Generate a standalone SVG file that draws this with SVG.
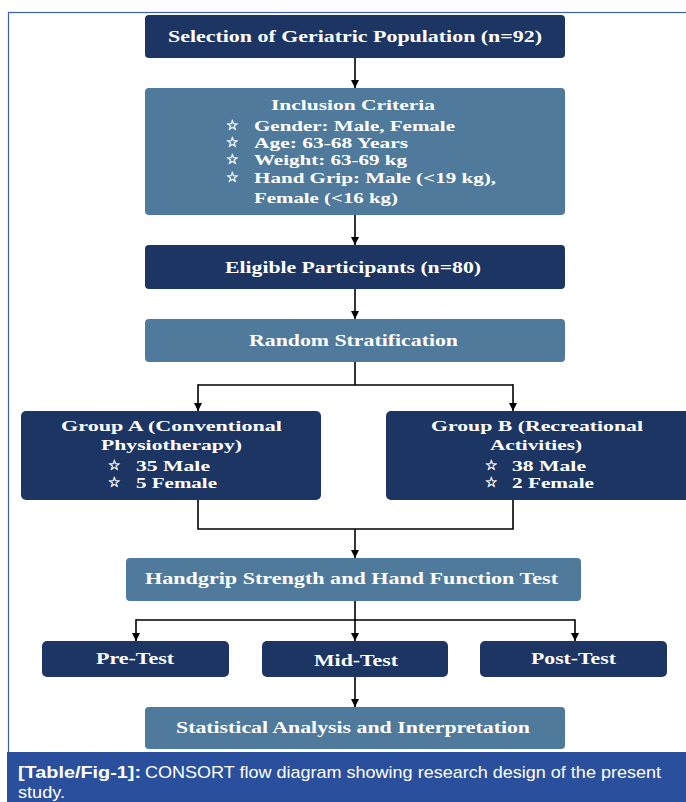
<svg xmlns="http://www.w3.org/2000/svg" width="686" height="802" viewBox="0 0 686 802">
<style>
.dark{fill:#1d3562;}
.steel{fill:#4f7a9b;}
.t{font-family:"Liberation Serif","Times New Roman",serif;font-weight:bold;font-size:17px;fill:#ffffff;}
.m{font-size:15px;}
.s{font-family:"DejaVu Sans",sans-serif;font-size:14px;fill:#ffffff;stroke:#ffffff;stroke-width:0.4;}
.ln{stroke:#000000;stroke-width:1.6;fill:none;}
.cap{font-family:"Liberation Sans",Arial,sans-serif;font-size:17px;fill:#ffffff;}
</style>
<defs>
<marker id="ah" viewBox="0 0 10 10" refX="10" refY="5" markerWidth="8" markerHeight="8" markerUnits="userSpaceOnUse" orient="auto">
<path d="M0,0 L10,5 L0,10 z" fill="#000000"/>
</marker>
</defs>
<rect x="0" y="0" width="686" height="802" fill="#ffffff"/>
<rect x="8.5" y="12.5" width="700" height="760" fill="none" stroke="#3c5fb0" stroke-width="1.2"/>

<g id="connectors">
<line class="ln" x1="355" y1="58" x2="355" y2="88" marker-end="url(#ah)"/>
<line class="ln" x1="355" y1="215" x2="355" y2="245" marker-end="url(#ah)"/>
<line class="ln" x1="355" y1="289" x2="355" y2="319" marker-end="url(#ah)"/>
<path class="ln" d="M355,362 V385 M198,385 H513"/>
<line class="ln" x1="198" y1="384.2" x2="198" y2="411" marker-end="url(#ah)"/>
<line class="ln" x1="513" y1="384.2" x2="513" y2="411" marker-end="url(#ah)"/>
<path class="ln" d="M198,500 V529 H513 V500"/>
<line class="ln" x1="355" y1="529" x2="355" y2="558" marker-end="url(#ah)"/>
<path class="ln" d="M355,601 V620 M136,620 H575"/>
<line class="ln" x1="136" y1="619.2" x2="136" y2="641" marker-end="url(#ah)"/>
<line class="ln" x1="355" y1="619.2" x2="355" y2="641" marker-end="url(#ah)"/>
<line class="ln" x1="575" y1="619.2" x2="575" y2="641" marker-end="url(#ah)"/>
<line class="ln" x1="355" y1="677" x2="355" y2="707" marker-end="url(#ah)"/>
</g>

<g id="selection">
<rect class="dark" x="145" y="15" width="420" height="43" rx="4"/>
<text class="t" x="168" y="42" textLength="374" lengthAdjust="spacingAndGlyphs">Selection of Geriatric Population (n=92)</text>
</g>

<g id="inclusion">
<rect class="steel" x="145" y="88" width="420" height="127" rx="4"/>
<text class="t m" x="271" y="110" textLength="164" lengthAdjust="spacingAndGlyphs">Inclusion Criteria</text>
<text class="s" x="226" y="130">☆</text>
<text class="t m" x="254" y="131" textLength="201" lengthAdjust="spacingAndGlyphs">Gender: Male, Female</text>
<text class="s" x="226" y="147">☆</text>
<text class="t m" x="254" y="148" textLength="154" lengthAdjust="spacingAndGlyphs">Age: 63-68 Years</text>
<text class="s" x="226" y="164">☆</text>
<text class="t m" x="254" y="165" textLength="153" lengthAdjust="spacingAndGlyphs">Weight: 63-69 kg</text>
<text class="s" x="226" y="182">☆</text>
<text class="t m" x="254" y="183" textLength="242" lengthAdjust="spacingAndGlyphs">Hand Grip: Male (&lt;19 kg),</text>
<text class="t m" x="254" y="203" textLength="144" lengthAdjust="spacingAndGlyphs">Female (&lt;16 kg)</text>
</g>

<g id="eligible">
<rect class="dark" x="145" y="245" width="420" height="44" rx="4"/>
<text class="t" x="225" y="273" textLength="256" lengthAdjust="spacingAndGlyphs">Eligible Participants (n=80)</text>
</g>

<g id="random">
<rect class="steel" x="145" y="319" width="420" height="43" rx="4"/>
<text class="t" x="249" y="346" textLength="209" lengthAdjust="spacingAndGlyphs">Random Stratification</text>
</g>

<g id="groupA">
<rect class="dark" x="21" y="411" width="300" height="89" rx="5"/>
<text class="t m" x="61" y="431" textLength="221" lengthAdjust="spacingAndGlyphs">Group A (Conventional</text>
<text class="t m" x="101" y="450" textLength="141" lengthAdjust="spacingAndGlyphs">Physiotherapy)</text>
<text class="s" x="108" y="470">☆</text>
<text class="t m" x="136" y="471" textLength="74" lengthAdjust="spacingAndGlyphs">35 Male</text>
<text class="s" x="108" y="487">☆</text>
<text class="t m" x="136" y="488" textLength="81" lengthAdjust="spacingAndGlyphs">5 Female</text>
</g>

<g id="groupB">
<rect class="dark" x="386" y="411" width="306" height="89" rx="5"/>
<text class="t m" x="431" y="431" textLength="212" lengthAdjust="spacingAndGlyphs">Group B (Recreational</text>
<text class="t m" x="490" y="450" textLength="92" lengthAdjust="spacingAndGlyphs">Activities)</text>
<text class="s" x="485" y="470">☆</text>
<text class="t m" x="512" y="471" textLength="74" lengthAdjust="spacingAndGlyphs">38 Male</text>
<text class="s" x="485" y="487">☆</text>
<text class="t m" x="512" y="488" textLength="82" lengthAdjust="spacingAndGlyphs">2 Female</text>
</g>

<g id="handgrip">
<rect class="steel" x="126" y="558" width="455" height="43" rx="4"/>
<text class="t" x="145" y="584" textLength="413" lengthAdjust="spacingAndGlyphs">Handgrip Strength and Hand Function Test</text>
</g>

<g id="pretest">
<rect class="dark" x="42" y="641" width="187" height="36" rx="5"/>
<text class="t" x="96" y="664" textLength="78" lengthAdjust="spacingAndGlyphs">Pre-Test</text>
</g>

<g id="midtest">
<rect class="dark" x="262" y="641" width="186" height="36" rx="5"/>
<text class="t" x="314" y="666" textLength="84" lengthAdjust="spacingAndGlyphs">Mid-Test</text>
</g>

<g id="posttest">
<rect class="dark" x="480" y="641" width="187" height="36" rx="5"/>
<text class="t" x="531" y="664" textLength="85" lengthAdjust="spacingAndGlyphs">Post-Test</text>
</g>

<g id="statistical">
<rect class="steel" x="145" y="707" width="420" height="42" rx="4"/>
<text class="t" x="176" y="733" textLength="354" lengthAdjust="spacingAndGlyphs">Statistical Analysis and Interpretation</text>
</g>

<g id="caption">
<rect x="7" y="752" width="679" height="50" fill="#2a4f9d"/>
<text class="cap" x="18" y="778" font-weight="bold" textLength="123" lengthAdjust="spacingAndGlyphs">[Table/Fig-1]:</text>
<text class="cap" x="145" y="778" textLength="516" lengthAdjust="spacingAndGlyphs">CONSORT flow diagram showing research design of the present</text>
<text class="cap" x="18" y="798" textLength="47" lengthAdjust="spacingAndGlyphs">study.</text>
</g>
</svg>
